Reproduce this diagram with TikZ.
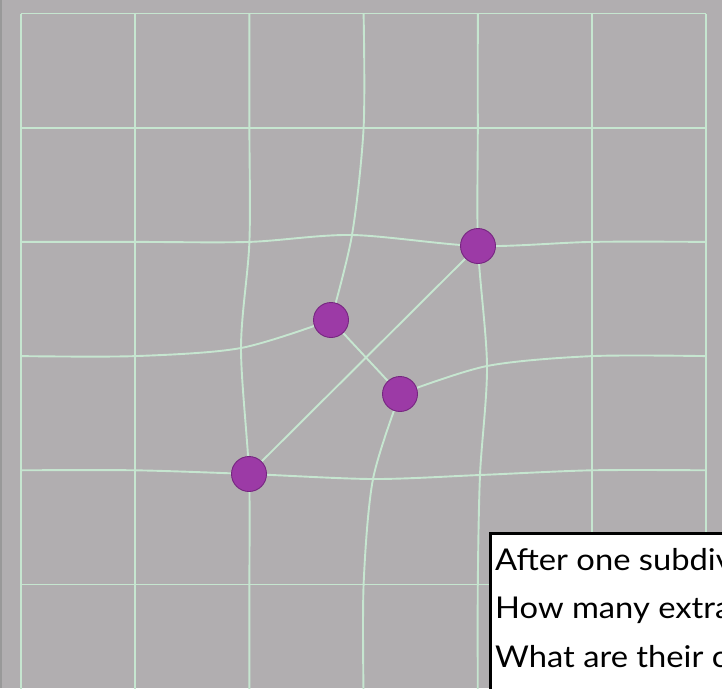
\documentclass[tikz,border=0pt]{standalone}
\usepackage{fontspec}
\setmainfont{Lato}[FakeStretch=1.09]
\usetikzlibrary{positioning,backgrounds}

\definecolor{bggray}{RGB}{177,174,176}
\definecolor{meshgreen}{RGB}{198,230,208}
\definecolor{dotpurple}{RGB}{156,58,166}
\definecolor{dotedge}{RGB}{118,38,128}

\begin{document}
\begin{tikzpicture}[
  x=1pt, y=-1pt,
  mesh/.style={draw=meshgreen, line width=1.9pt, line join=round},
  dot/.style={circle, fill=dotpurple, draw=dotedge, line width=0.9pt, minimum size=35pt, inner sep=0pt},
  qbox/.style={draw=black, line width=3pt, fill=white, minimum width=260pt, minimum height=180pt, inner sep=0pt},
  qtext/.style={anchor=base west, inner sep=0pt, font=\fontsize{30}{36}\selectfont}
]

\useasboundingbox (0,0) rectangle (722,688);

% regular lattice points
\foreach \i in {0,...,6} {
  \foreach \j in {0,...,6} {
    \coordinate (g-\i-\j) at ({21+114.2*\i},{13.5+114.2*\j});
  }
}
% moved points
\coordinate (g-3-2) at (352,235);
\coordinate (g-2-3) at (241,348);
\coordinate (g-4-3) at (487,366);
\coordinate (g-3-4) at (373,479);
\coordinate (g-4-4) at (480,475);

\node[dot] (d1) at (478,246) {};
\node[dot] (d2) at (331,320) {};
\node[dot] (d3) at (400,394) {};
\node[dot] (d4) at (249,474) {};

\begin{scope}[on background layer]
\fill[bggray] (0,0) rectangle (722,688);
\draw[gray!80, line width=2.5pt] (1,0) -- (1,688);

% straight lines away from the patch
\foreach \k in {0,1,5,6} {
  \draw[mesh] (g-\k-0) -- (g-\k-6);
  \draw[mesh] (g-0-\k) -- (g-6-\k);
}

% bent lines
\draw[mesh] plot[smooth, tension=0.5] coordinates {(g-2-0) (g-2-1) (g-2-2) (g-2-3) (d4) (g-2-5) (g-2-6)};
\draw[mesh] plot[smooth, tension=0.5] coordinates {(g-4-0) (g-4-1) (d1) (g-4-3) (g-4-4) (g-4-5) (g-4-6)};
\draw[mesh] plot[smooth, tension=0.5] coordinates {(g-3-0) (g-3-1) (g-3-2) (d2)};
\draw[mesh] plot[smooth, tension=0.5] coordinates {(d3) (g-3-4) (g-3-5) (g-3-6)};
\draw[mesh] plot[smooth, tension=0.5] coordinates {(g-0-2) (g-1-2) (g-2-2) (g-3-2) (d1) (g-5-2) (g-6-2)};
\draw[mesh] plot[smooth, tension=0.5] coordinates {(g-0-3) (g-1-3) (g-2-3) (d2)};
\draw[mesh] plot[smooth, tension=0.5] coordinates {(d3) (g-4-3) (g-5-3) (g-6-3)};
\draw[mesh] plot[smooth, tension=0.5] coordinates {(g-0-4) (g-1-4) (d4) (g-3-4) (g-4-4) (g-5-4) (g-6-4)};
\draw[mesh] (d2) -- (d3);
\draw[mesh] (d1) -- (d4);
\end{scope}

\node[qbox, anchor=north west] (box) at (489,532) {};
\node[qtext] (q1) at (495,570) {After one subdiv};
\node[qtext] (q2) at (495,618.5) {How many extra};
\node[qtext] (q3) at (495,667) {What are their c};

\end{tikzpicture}
\end{document}
